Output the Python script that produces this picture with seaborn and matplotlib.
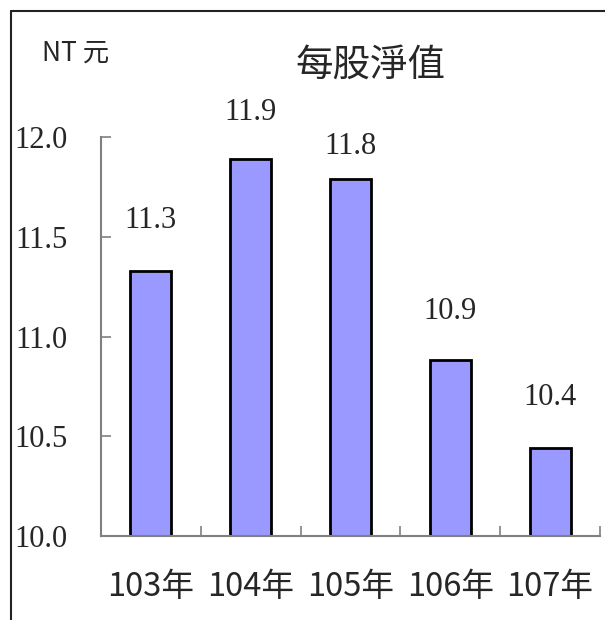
import matplotlib
matplotlib.use("Agg")
import matplotlib.pyplot as plt
import seaborn as sns
import pandas as pd
from matplotlib.lines import Line2D

years = ["103年", "104年", "105年", "106年", "107年"]
nav = [11.33, 11.89, 11.79, 10.88, 10.44]
labels = ["11.3", "11.9", "11.8", "10.9", "10.4"]
yticks = [10.0, 10.5, 11.0, 11.5, 12.0]

sns.set_style("white")
plt.rcParams['font.family'] = ['Noto Sans CJK TC', 'DejaVu Sans']

df = pd.DataFrame({"year": years, "nav": nav})

fig = plt.figure(figsize=(6.05, 6.2), dpi=100)
ax = fig.add_axes([101 / 605, 1 - 536 / 620, 499 / 605, 399 / 620])

sns.barplot(data=df, x="year", y="nav", color="#9999FF", saturation=1,
            width=0.41, edgecolor="black", linewidth=2, ax=ax)

ax.set_ylim(10, 12)
ax.set_xlim(-0.5, 4.5)
ax.set_xlabel("")
ax.set_ylabel("")

for s in ["top", "right"]:
    ax.spines[s].set_visible(False)
for s in ["left", "bottom"]:
    ax.spines[s].set_color("#808080")
    ax.spines[s].set_linewidth(1.5)

ax.set_yticks(yticks)
ax.set_yticklabels([f"{v:.1f}" for v in yticks], family="Liberation Serif", fontsize=22)
ax.tick_params(axis="y", direction="in", length=7, width=1.2, color="#808080",
               left=True, pad=24)
ax.set_xticks(range(len(years)))
ax.set_xticklabels(years, fontsize=23.5)
ax.tick_params(axis="x", which="major", length=0, pad=25)
ax.set_xticks([i - 0.5 for i in range(len(years) + 1)], minor=True)
ax.tick_params(axis="x", which="minor", direction="in", length=7, width=1.2,
               color="#808080", bottom=True)

# label lift above each bar (points), as placed in the original
lift = [26, 23, 13, 24.5, 26]
for i, (v, t) in enumerate(zip(nav, labels)):
    ax.annotate(t, (i, v), xytext=(0, lift[i]), textcoords="offset points",
                ha="center", va="bottom", family="Liberation Serif", fontsize=22)

fig.text(371 / 605, 1 - 65 / 620, "每股淨值", ha="center", va="center", fontsize=27)
fig.text(76 / 605, 1 - 53 / 620, "NT 元", ha="center", va="center", fontsize=19)

# outer frame (top and left edges visible)
fig.add_artist(Line2D([11 / 605, 1], [1 - 11 / 620, 1 - 11 / 620], color="#222222",
                      linewidth=1.5, transform=fig.transFigure))
fig.add_artist(Line2D([11 / 605, 11 / 605], [0, 1 - 11 / 620], color="#222222",
                      linewidth=1.5, transform=fig.transFigure))

fig.savefig("out.png", dpi=100)
